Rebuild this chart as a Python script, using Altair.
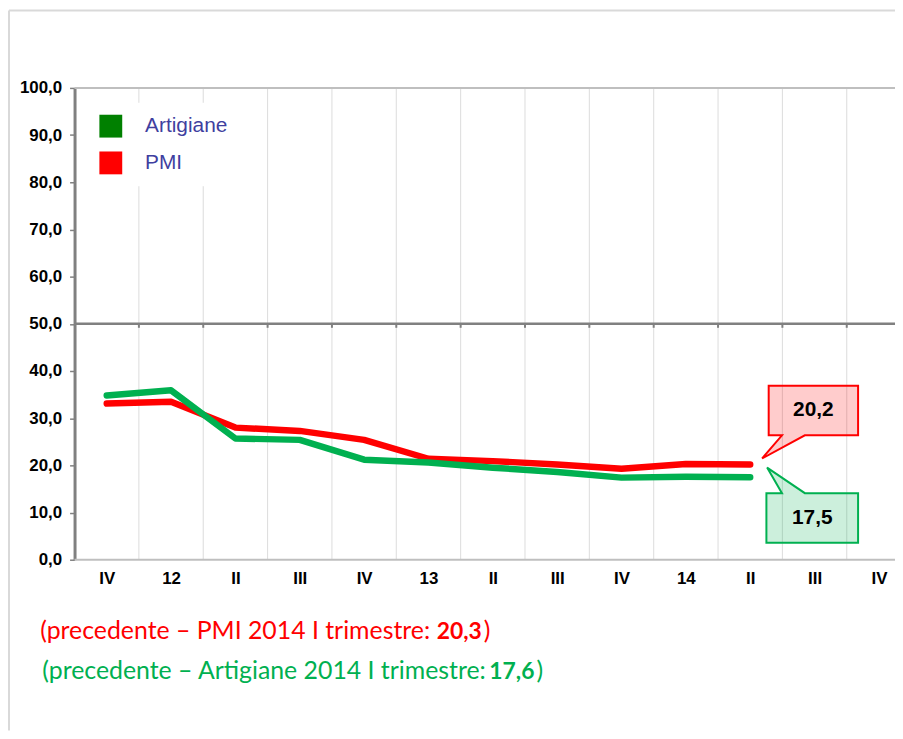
import altair as alt
import pandas as pd

# ---------------- data ----------------
categories = ["IV", "12", "II", "III", "IV", "13", "II", "III", "IV", "14", "II", "III", "IV"]
series_names = ["Artigiane", "PMI"]
artigiane = [34.8, 35.9, 25.7, 25.4, 21.2, 20.6, 19.5, 18.6, 17.4, 17.6, 17.5]
pmi = [33.1, 33.5, 28.0, 27.3, 25.4, 21.4, 20.9, 20.2, 19.3, 20.3, 20.2]
prev_pmi = 20.3
prev_artigiane = 17.6
y_ticks = list(range(0, 101, 10))
y_min, y_max, y_cross = 0, 100, 50

# ---------------- styles ----------------
line_colors = ["#00b050", "#ff0000"]
legend_colors = ["#008000", "#ff0000"]
W, H = 826, 475
PAD_L, PAD_T, PAD_B = 67, 78, 172

rows = []
for i, v in enumerate(artigiane):
    rows.append({"idx": i, "series": "Artigiane", "value": v})
for i, v in enumerate(pmi):
    rows.append({"idx": i, "series": "PMI", "value": v})
df = pd.DataFrame(rows)
last_idx = len(pmi) - 1

bounds_df = pd.DataFrame({"b": [i + 0.5 for i in range(len(categories) - 1)], "c": y_cross})
hline_df = pd.DataFrame({"v": [y_min, y_max]})
cross_df = pd.DataFrame({"v": [y_cross]})
one = pd.DataFrame({"k": [0]})

x_scale = alt.Scale(domain=[-0.5, 12.25], nice=False, zero=False)
y_scale = alt.Scale(domain=[y_min, y_max], nice=False)

label_array = "[" + ",".join(f"'{c}'" for c in categories) + "]"
comma_fmt = "replace(format(datum.value, '.1f'), '.', ',')"

x_axis = alt.Axis(values=list(range(len(categories))), labelExpr=f"{label_array}[datum.value]",
                  title=None, grid=False, ticks=False, domain=False, labelFont="Liberation Sans",
                  labelFontWeight="bold", labelFontSize=17, labelColor="black", labelPadding=11,
                  labelOverlap=False, labelFlush=False, labelBound=False)
y_axis = alt.Axis(values=y_ticks, labelExpr=comma_fmt, title=None, grid=False,
                  domainColor="#808080", domainWidth=3, tickColor="#808080", tickWidth=1.5,
                  tickSize=5, labelFont="Liberation Sans", labelFontWeight="bold",
                  labelFontSize=17, labelColor="black", labelPadding=8)

def X(field):
    return alt.X(field, scale=x_scale, axis=x_axis)

def Y(field):
    return alt.Y(field, scale=y_scale, axis=y_axis)

# gridlines (band boundaries)
grid = alt.Chart(bounds_df).mark_rule(color="#dcdcdc", strokeWidth=1).encode(x=X("b:Q"))
# top / bottom border lines
hlines = alt.Chart(hline_df).mark_rule(color="#bfbfbf", strokeWidth=2).encode(y=Y("v:Q"))
# crossing axis at 50
cross = alt.Chart(cross_df).mark_rule(color="#808080", strokeWidth=2.5).encode(y=Y("v:Q"))
cross_ticks = alt.Chart(bounds_df).mark_rule(color="#808080", strokeWidth=2, y2Offset=4).encode(
    x=X("b:Q"), y=Y("c:Q"), y2="c:Q")

# legend carrier (invisible squares)
legend_layer = alt.Chart(df).mark_square(opacity=0, size=10).encode(
    x=X("idx:Q"), y=Y("value:Q"),
    color=alt.Color("series:N", scale=alt.Scale(domain=series_names, range=legend_colors),
                    legend=alt.Legend(title=None, orient="none", legendX=13, legendY=15,
                                      direction="vertical", symbolType="square", symbolSize=529,
                                      symbolOpacity=1, symbolStrokeWidth=0,
                                      labelFont="Liberation Sans", labelFontSize=21,
                                      labelColor="#3f3f9f", labelOffset=23, rowPadding=14,
                                      padding=12, fillColor="white")))

line_base = alt.Chart(df).mark_line(strokeWidth=6.5, strokeCap="round", strokeJoin="round").encode(
    x=X("idx:Q"), y=Y("value:Q"),
    stroke=alt.Stroke("series:N", scale=alt.Scale(domain=series_names, range=line_colors), legend=None))
pmi_line = line_base.transform_filter("datum.series == 'PMI'")
art_line = line_base.transform_filter("datum.series == 'Artigiane'")

# callouts
R = 50.0
def path(pts):
    return "M" + " L".join(f"{x / R:.3f},{y / R:.3f}" for x, y in pts) + " Z"

red_path = path([(18.6, -79.3), (108.6, -79.3), (108.6, -29.3), (55, -29.3), (12, -6),
                 (32, -29.3), (18.6, -29.3)])
green_path = path([(16.3, 16.1), (32, 16.1), (17, -9.6), (55, 16.1), (108.6, 16.1),
                   (108.6, 66.1), (16.3, 66.1)])

def callout(name, shape, color, dx, dy):
    base = alt.Chart(df).transform_filter(
        f"datum.series == '{name}' && datum.idx == {last_idx}").transform_calculate(
        label=comma_fmt).encode(x=X("idx:Q"), y=Y("value:Q"))
    box = base.mark_point(shape=shape, size=(2 * R) ** 2, filled=True, fill=color,
                          fillOpacity=0.2, stroke=color, strokeWidth=2, opacity=1)
    txt = base.mark_text(dx=dx, dy=dy, font="Liberation Sans", fontWeight="bold", fontSize=21,
                         color="black", align="center", baseline="middle").encode(text="label:N")
    return box + txt

red_call = callout("PMI", red_path, "#ff0000", 63.6, -54.3)
green_call = callout("Artigiane", green_path, "#00b050", 62.5, 41)

# frame
left_frame = alt.Chart(one).mark_rule(color="#d9d9d9", strokeWidth=2).encode(
    x=alt.value(-66), y=alt.value(-78), y2=alt.value(H + PAD_B))
top_frame = alt.Chart(one).mark_rule(color="#d9d9d9", strokeWidth=2).encode(
    x=alt.value(-66), x2=alt.value(W + 10), y=alt.value(-78))

# notes
def fmt(v):
    return f"{v:.1f}".replace(".", ",")

def note(prefix, value, color, x_colon, x_num_end, y):
    a = alt.Chart(one).mark_text(align="right", font="Lato", fontSize=25, color=color,
                                 baseline="alphabetic").encode(
        x=alt.value(x_colon), y=alt.value(y), text=alt.value(prefix))
    b = alt.Chart(one).mark_text(align="right", font="Lato", fontSize=23, fontWeight="bold",
                                 color=color, baseline="alphabetic").encode(
        x=alt.value(x_num_end), y=alt.value(y), text=alt.value(fmt(value)))
    c = alt.Chart(one).mark_text(align="left", font="Lato", fontSize=25, color=color,
                                 baseline="alphabetic").encode(
        x=alt.value(x_num_end + 2), y=alt.value(y), text=alt.value(")"))
    return a + b + c

note_red = note("(precedente – PMI 2014 I trimestre:", prev_pmi, "#ff0000", 358, 410, 555)
note_green = note("(precedente – Artigiane 2014 I trimestre:", prev_artigiane, "#00b050",
                  414, 463, 595)

chart = alt.layer(
    grid, hlines, cross, cross_ticks, legend_layer, pmi_line, art_line,
    red_call, green_call, left_frame, top_frame, note_red, note_green
).properties(
    width=W, height=H,
    autosize=alt.AutoSizeParams(type="none"),
    padding={"left": PAD_L, "top": PAD_T, "right": 0, "bottom": PAD_B},
    background="white",
).configure_view(stroke=None)

chart.save("out.html", embed_options={"renderer": "svg", "actions": False})
